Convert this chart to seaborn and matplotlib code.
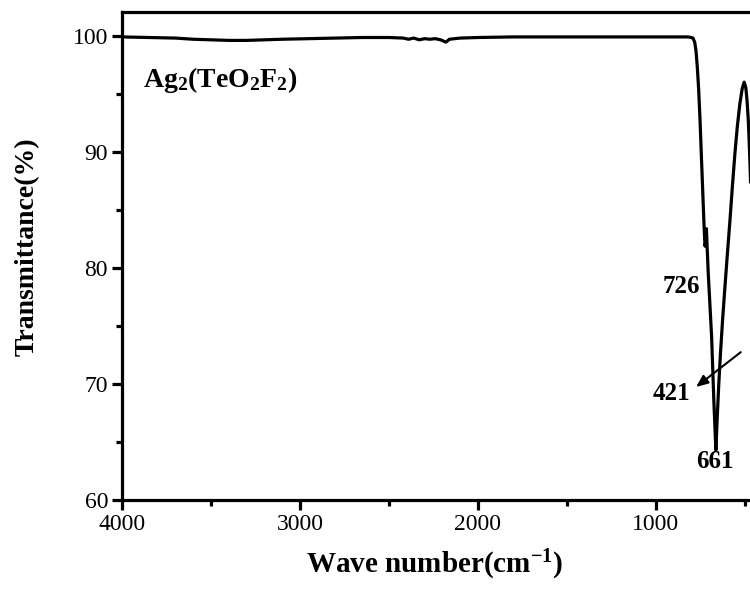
import matplotlib
matplotlib.use('Agg')
import matplotlib.pyplot as plt
import seaborn as sns
import pandas as pd

# FTIR spectrum (wave number in cm-1, transmittance in %)
wave_number = [4000, 3850, 3700, 3600, 3500, 3400, 3300, 3200, 3100, 2950, 2800,
               2650, 2500, 2420, 2390, 2360, 2330, 2300, 2270, 2240, 2210, 2180,
               2160, 2100, 2000, 1800, 1600, 1400, 1200, 1000, 900, 820, 800,
               792, 782, 775, 768, 760, 752, 744, 736, 729, 724, 720, 716, 712,
               706, 697, 687, 674, 663, 656, 647, 637, 625, 612, 598, 584,
               570, 556, 542, 528, 515, 504, 495, 488, 481, 476, 472, 468]
transmittance = [99.95, 99.9, 99.85, 99.75, 99.7, 99.65, 99.65, 99.7, 99.75, 99.8, 99.85,
                 99.9, 99.9, 99.85, 99.75, 99.85, 99.7, 99.8, 99.75, 99.8, 99.7, 99.5,
                 99.75, 99.85, 99.9, 99.95, 99.95, 99.95, 99.95, 99.95, 99.95, 99.95, 99.9,
                 99.85, 99.5, 98.8, 97.5, 95.5, 92.8, 89.5, 86.3, 83.5, 81.9, 82.3, 83.4, 81.8,
                 79.6, 77.0, 74.1, 68.4, 64.3, 66.9, 69.9, 72.7, 75.6, 78.4, 81.3, 84.1,
                 87.1, 89.9, 92.3, 94.2, 95.5, 96.05, 95.6, 94.5, 92.8, 91.0, 89.3, 87.4]

peak_labels = ['726', '421', '661']
peak_label_x = [858, 913, 671]
peak_label_y = [78.4, 69.2, 63.3]
sample_name = r'Ag$_\mathrm{2}$(TeO$_\mathrm{2}$F$_\mathrm{2}$)'

df = pd.DataFrame({'wn': wave_number, 'T': transmittance})

sns.set_theme(style='ticks')
plt.rcParams['font.family'] = ['Liberation Serif', 'DejaVu Serif']
plt.rcParams['text.color'] = 'black'
plt.rcParams['axes.labelcolor'] = 'black'
plt.rcParams['xtick.color'] = 'black'
plt.rcParams['ytick.color'] = 'black'
plt.rcParams['mathtext.fontset'] = 'custom'
plt.rcParams['mathtext.rm'] = 'Liberation Serif:bold'
plt.rcParams['mathtext.bf'] = 'Liberation Serif:bold'
plt.rcParams['mathtext.it'] = 'Liberation Serif:bold:italic'

fig = plt.figure(figsize=(7.5, 5.89), dpi=100)
ax = fig.add_axes([122 / 750, 89 / 589, 630 / 750, 488 / 589])

sns.lineplot(data=df, x='wn', y='T', ax=ax, color='black', linewidth=2.3)

ax.set_xlim(4000, 460)
ax.set_ylim(60, 102.1)
ax.set_xticks([4000, 3000, 2000, 1000])
ax.set_xticks([3500, 2500, 1500, 500], minor=True)
ax.set_yticks([60, 70, 80, 90, 100])
ax.set_yticks([65, 75, 85, 95], minor=True)

for s in ax.spines.values():
    s.set_linewidth(2.3)
    s.set_color('black')
ax.tick_params(which='major', direction='out', length=7, width=2.3,
               labelsize=17, pad=3, colors='black')
ax.tick_params(which='minor', direction='out', length=4, width=2.3, colors='black')

ax.set_xlabel(r'Wave number(cm$^{-1}$)', fontsize=21, fontweight='bold')
ax.set_ylabel('Transmittance(%)', fontsize=20, fontweight='bold')
ax.xaxis.set_label_coords(0.496, -0.098)
ax.yaxis.set_label_coords(-0.13, 0.52)

ax.text(3882, 96.2, sample_name, fontsize=20, fontweight='bold',
        ha='left', va='center')
for lab, lx, ly in zip(peak_labels, peak_label_x, peak_label_y):
    ax.text(lx, ly, lab, fontsize=18, fontweight='bold', ha='center', va='center')

ax.annotate('', xy=(787, 69.6), xytext=(511, 72.9),
            arrowprops=dict(arrowstyle='-|>,head_length=0.6,head_width=0.25',
                            color='black', lw=1.5))

fig.savefig('out.png', dpi=100)
